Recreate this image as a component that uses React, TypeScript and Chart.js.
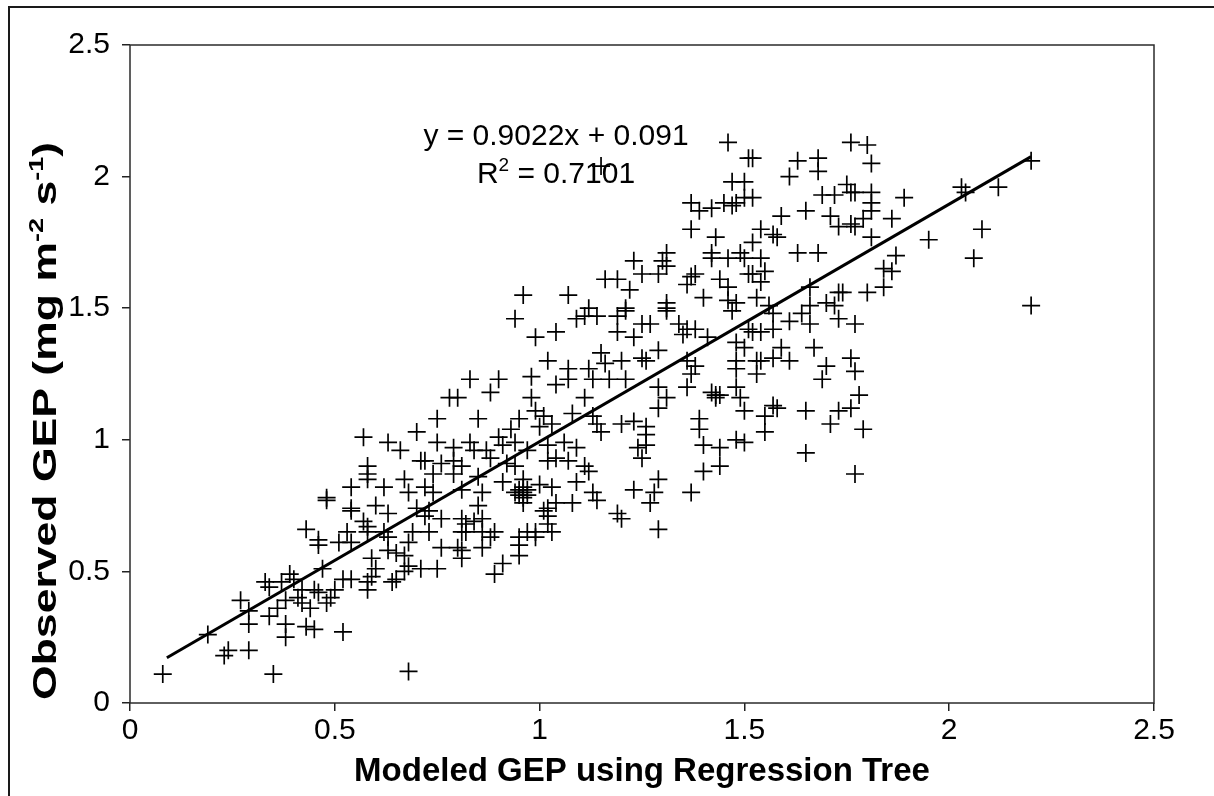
import { useEffect, useRef } from "react";
import { Chart, registerables } from "chart.js";

Chart.register(...registerables);

const FONT = '"Liberation Sans", Arial, Helvetica, sans-serif';

// [modeled GEP, observed GEP] pairs, grouped by the part of the cloud they sit in
const pairsLow: [number, number][] = [
  [0.08, 0.11], [0.19, 0.26], [0.24, 0.2], [0.23, 0.18], [0.29, 0.2], [0.35, 0.11], [0.68, 0.12],
  [0.27, 0.39], [0.29, 0.35], [0.29, 0.3], [0.34, 0.33], [0.33, 0.46], [0.34, 0.44], [0.36, 0.36],
  [0.38, 0.3], [0.38, 0.25], [0.38, 0.39], [0.37, 0.46], [0.4, 0.47], [0.39, 0.49], [0.41, 0.4],
  [0.42, 0.43], [0.42, 0.38], [0.43, 0.29], [0.44, 0.36], [0.45, 0.28], [0.45, 0.43], [0.46, 0.42],
  [0.47, 0.51], [0.48, 0.38], [0.49, 0.4], [0.5, 0.43], [0.52, 0.27], [0.52, 0.47], [0.54, 0.47],
  [0.58, 0.43], [0.58, 0.46], [0.59, 0.48], [0.6, 0.51], [0.59, 0.55], [0.64, 0.46], [0.65, 0.47],
  [0.67, 0.5], [0.68, 0.52], [0.71, 0.51], [0.75, 0.51], [0.43, 0.66], [0.46, 0.62], [0.46, 0.6],
  [0.51, 0.61], [0.53, 0.65], [0.54, 0.61], [0.57, 0.69], [0.58, 0.67], [0.58, 0.65], [0.62, 0.65],
  [0.63, 0.63], [0.63, 0.58], [0.65, 0.57], [0.67, 0.56], [0.68, 0.61], [0.69, 0.65], [0.73, 0.65],
  [0.76, 0.59], [0.76, 0.7], [0.72, 0.71], [0.54, 0.74], [0.54, 0.73], [0.6, 0.75], [0.63, 0.72],
  [0.7, 0.74], [0.73, 0.73], [0.48, 0.77],
];

const pairsLowMid: [number, number][] = [
  [0.57, 1.01], [0.63, 0.99], [0.66, 0.96], [0.7, 1.03], [0.75, 1.08], [0.75, 0.99], [0.78, 1.16],
  [0.58, 0.9], [0.58, 0.87], [0.58, 0.85], [0.54, 0.82], [0.62, 0.82], [0.67, 0.85], [0.71, 0.92],
  [0.72, 0.92], [0.76, 0.91], [0.74, 0.87], [0.68, 0.8], [0.72, 0.82], [0.74, 0.8], [0.48, 0.78],
];

const pairsCore: [number, number][] = [
  [0.85, 0.75], [0.96, 0.76], [1.02, 0.74], [1.04, 0.76], [1.08, 0.76], [0.81, 0.7], [0.82, 0.68],
  [0.86, 0.7], [0.84, 0.69], [0.81, 0.65], [0.82, 0.65], [0.86, 0.65], [0.89, 0.65], [0.88, 0.63],
  [0.8, 0.59], [0.81, 0.58], [0.81, 0.55], [0.86, 0.59], [0.95, 0.63], [0.95, 0.6], [0.95, 0.56],
  [0.97, 0.65], [0.99, 0.65], [0.99, 0.63], [1.02, 0.71], [1.02, 0.68], [1.03, 0.65], [1.01, 0.73],
  [0.91, 0.53], [0.89, 0.49], [1.19, 0.72], [1.2, 0.7], [1.29, 0.66], [1.14, 0.77], [1.27, 0.76],
];

const pairsCentral: [number, number][] = [
  [0.94, 1.46], [1.09, 1.46], [1.11, 1.47], [1.14, 1.47], [1.19, 1.47], [1.21, 1.49], [1.25, 1.44],
  [1.27, 1.44], [1.34, 1.44], [1.36, 1.42], [1.38, 1.42], [1.35, 1.4], [1.41, 1.39], [1.31, 1.49],
  [1.47, 1.49], [0.99, 1.39], [1.04, 1.41], [1.19, 1.41], [1.23, 1.39], [1.29, 1.34], [1.48, 1.37],
  [1.5, 1.35], [1.51, 1.42], [1.15, 1.33], [1.16, 1.29], [1.2, 1.3], [1.25, 1.31], [1.26, 1.3],
  [1.02, 1.3], [1.07, 1.27], [1.12, 1.27], [1.17, 1.23], [1.21, 1.23], [1.13, 1.23], [1.07, 1.23],
  [0.98, 1.24], [1.04, 1.21], [0.83, 1.23], [0.9, 1.23], [0.88, 1.18], [0.8, 1.16], [0.98, 1.16],
  [1.11, 1.16], [1.29, 1.2], [1.36, 1.2], [1.37, 1.25], [1.36, 1.3], [1.38, 1.28], [1.31, 1.16],
  [1.29, 1.12], [1.43, 1.17], [1.43, 1.16], [1.44, 1.17], [1.42, 1.18], [1.48, 1.2], [1.49, 1.16],
  [1.5, 1.11], [1.48, 1.3], [1.48, 1.27],
  [0.85, 1.08], [0.95, 1.08], [0.99, 1.11], [1.01, 1.09], [1.0, 1.05], [1.03, 1.06], [1.08, 1.1],
  [1.13, 1.09], [1.14, 1.06], [1.15, 1.03], [1.2, 1.06], [1.23, 1.07], [1.26, 1.05], [1.26, 1.02],
  [1.39, 1.08], [1.39, 1.04], [0.9, 1.01], [0.93, 1.04], [0.91, 0.98], [0.94, 0.99], [0.83, 0.99],
  [0.84, 0.96], [0.87, 0.96], [0.79, 0.97], [0.97, 0.96], [1.02, 0.98], [1.06, 0.99], [1.09, 0.97],
  [1.24, 0.97], [1.26, 0.98], [1.4, 0.98], [1.44, 0.97], [1.5, 0.99], [1.48, 1.0],
  [0.79, 0.92], [0.81, 0.9], [0.88, 0.93], [0.92, 0.91], [0.94, 0.9], [1.02, 0.92], [1.04, 0.93],
  [1.07, 0.92], [1.12, 0.88], [1.11, 0.9], [1.25, 0.93], [1.44, 0.9], [1.4, 0.88], [0.79, 0.87],
  [0.85, 0.86], [0.91, 0.84], [0.96, 0.85], [0.96, 0.82], [1.0, 0.83], [1.03, 0.82], [1.09, 0.84],
  [1.13, 0.8], [1.23, 0.81], [1.29, 0.85], [1.28, 0.8], [1.37, 0.8], [0.94, 0.8], [0.97, 0.79],
  [0.81, 0.81], [0.86, 0.8], [0.95, 0.79], [0.96, 0.8], [0.97, 0.81], [0.95, 0.81], [0.96, 0.78],
];

const pairsUpperMid: [number, number][] = [
  [1.46, 2.13], [1.51, 2.07], [1.47, 1.98], [1.5, 1.98], [1.37, 1.9], [1.39, 1.87], [1.42, 1.88],
  [1.45, 1.9], [1.47, 1.89], [1.48, 1.9], [1.5, 1.92], [1.37, 1.8], [1.43, 1.77], [1.31, 1.71],
  [1.3, 1.68], [1.31, 1.66], [1.29, 1.63], [1.23, 1.68], [1.25, 1.63], [1.16, 1.61], [1.19, 1.61],
  [1.22, 1.57], [1.42, 1.71], [1.42, 1.69], [1.46, 1.69], [1.49, 1.71], [1.5, 1.69], [1.37, 1.62],
  [1.38, 1.63], [1.36, 1.59], [1.4, 1.54], [1.44, 1.61], [1.46, 1.58], [1.46, 1.53], [1.48, 1.52],
  [1.51, 1.63], [0.96, 1.55], [1.07, 1.55], [1.12, 1.5], [1.21, 1.5], [1.31, 1.52], [1.31, 1.5],
  [1.15, 2.04],
];

const pairsUpperRight: [number, number][] = [
  [1.76, 2.13], [1.8, 2.12], [1.81, 2.05], [1.52, 2.07], [1.63, 2.06], [1.68, 2.07], [1.68, 2.02],
  [1.61, 2.0], [1.52, 1.92], [1.69, 1.93], [1.72, 1.93], [1.75, 1.97], [1.76, 1.94], [1.77, 1.94],
  [1.81, 1.94], [1.81, 1.9], [1.89, 1.92], [1.59, 1.85], [1.65, 1.87], [1.71, 1.85], [1.73, 1.81],
  [1.76, 1.82], [1.77, 1.81], [1.79, 1.84], [1.81, 1.87], [1.86, 1.84], [1.54, 1.8], [1.57, 1.78],
  [1.58, 1.77], [1.52, 1.75], [1.81, 1.77], [1.63, 1.71], [1.68, 1.71], [1.54, 1.69], [1.55, 1.64],
  [1.54, 1.6], [1.52, 1.63], [1.87, 1.7], [1.86, 1.64], [1.84, 1.65], [1.84, 1.58], [1.8, 1.56],
  [1.74, 1.56], [1.73, 1.56], [1.7, 1.52], [1.72, 1.51], [1.66, 1.58], [1.66, 1.51], [1.95, 1.76],
  [2.03, 1.96], [2.04, 1.94], [2.12, 1.96], [2.08, 1.8], [2.06, 1.69], [2.2, 2.06], [2.2, 1.51],
  [1.53, 1.54], [1.56, 1.51],
];

const pairsRight: [number, number][] = [
  [1.57, 1.48], [1.64, 1.48], [1.66, 1.44], [1.61, 1.45], [1.73, 1.46], [1.77, 1.44], [1.52, 1.41],
  [1.54, 1.41], [1.57, 1.42], [1.59, 1.35], [1.67, 1.35], [1.53, 1.3], [1.54, 1.3], [1.57, 1.31],
  [1.61, 1.3], [1.7, 1.28], [1.76, 1.31], [1.77, 1.26], [1.53, 1.25], [1.69, 1.23], [1.78, 1.17],
  [1.57, 1.13], [1.58, 1.12], [1.55, 1.09], [1.65, 1.11], [1.73, 1.11], [1.76, 1.12], [1.71, 1.06],
  [1.79, 1.04], [1.55, 1.03], [1.65, 0.95], [1.77, 0.87],
];

// Least-squares fit reported on the chart
const slope = 0.9022;
const intercept = 0.091;
const rSquared = "0.7101";
const fitRange = [0.09, 2.2];

const xTickValues = [0, 0.5, 1, 1.5, 2, 2.5];
const yTickValues = [0, 0.5, 1, 1.5, 2, 2.5];

const xTitle = "Modeled GEP using Regression Tree";
const yTitleParts: [string, boolean][] = [
  ["Observed GEP (mg m", false],
  ["-2", true],
  [" s", false],
  ["-1", true],
  [")", false],
];

type Part = [string, boolean];

function drawRich(
  ctx: CanvasRenderingContext2D,
  parts: Part[],
  cx: number,
  baseline: number,
  size: number,
  bold: boolean
) {
  const weight = bold ? "bold " : "";
  const mainFont = `${weight}${size}px ${FONT}`;
  const supFont = `${weight}${Math.round(size * 0.62)}px ${FONT}`;
  let total = 0;
  const widths = parts.map(([t, sup]) => {
    ctx.font = sup ? supFont : mainFont;
    const w = ctx.measureText(t).width;
    total += w;
    return w;
  });
  let x = cx - total / 2;
  ctx.textAlign = "left";
  ctx.textBaseline = "alphabetic";
  parts.forEach(([t, sup], i) => {
    ctx.font = sup ? supFont : mainFont;
    ctx.fillText(t, x, sup ? baseline - size * 0.4 : baseline);
    x += widths[i];
  });
}

const decorations = {
  id: "decorations",
  afterDraw(chart: Chart) {
    const { ctx, chartArea: a } = chart;
    ctx.save();
    // page frame
    ctx.strokeStyle = "#1a1a1a";
    ctx.lineWidth = 2;
    ctx.strokeRect(9, 7, 1400, 1000);
    // plot box
    ctx.strokeStyle = "#2b2b2b";
    ctx.lineWidth = 1.5;
    ctx.strokeRect(a.left, a.top, a.right - a.left, a.bottom - a.top);

    ctx.fillStyle = "#000";
    // regression equation
    drawRich(ctx, [[`y = ${slope}x + ${intercept}`, false]], 556, 145, 30, false);
    drawRich(ctx, [["R", false], ["2", true], [` = ${rSquared}`, false]], 556, 183, 30, false);

    // axis titles
    drawRich(ctx, [[xTitle, false]], (a.left + a.right) / 2, 781, 33, true);
    ctx.save();
    ctx.translate(56, 421);
    ctx.rotate(-Math.PI / 2);
    ctx.scale(1.35, 1);
    drawRich(ctx, yTitleParts, 0, 0, 33, true);
    ctx.restore();

    ctx.restore();
  },
};

function axis(values: number[], isX: boolean) {
  return {
    type: "linear" as const,
    min: 0,
    max: 2.5,
    afterBuildTicks: (s: any) => {
      s.ticks = values.map((v) => ({ value: v }));
    },
    afterFit: (s: any) => {
      if (isX) s.height = 93;
      else s.width = 130;
    },
    ticks: {
      color: "#000",
      font: { family: FONT, size: 30 },
      padding: isX ? 2 : 12,
      maxRotation: 0,
      autoSkip: false,
      callback: (v: any) => String(v),
    },
    grid: {
      drawOnChartArea: false,
      drawTicks: true,
      tickLength: 8,
      color: "#222",
      lineWidth: 1.5,
    },
    border: { display: false },
  };
}

export default function App() {
  const canvasRef = useRef<HTMLCanvasElement | null>(null);

  useEffect(() => {
    const canvas = canvasRef.current;
    if (!canvas) return;
    const points = [
      ...pairsLow,
      ...pairsLowMid,
      ...pairsCore,
      ...pairsCentral,
      ...pairsUpperMid,
      ...pairsUpperRight,
      ...pairsRight,
    ].map(([x, y]) => ({ x, y }));
    const fitLine = fitRange.map((x) => ({ x, y: slope * x + intercept }));

    const chart = new Chart(canvas, {
      type: "scatter",
      data: {
        datasets: [
          {
            data: points,
            pointStyle: "cross",
            radius: 9,
            borderColor: "#000",
            backgroundColor: "#000",
            borderWidth: 1.7,
          },
          {
            data: fitLine,
            showLine: true,
            pointRadius: 0,
            borderColor: "#000",
            borderWidth: 3,
          },
        ],
      },
      options: {
        responsive: false,
        animation: false,
        devicePixelRatio: 1,
        layout: { padding: { left: 0, top: 45, right: 60, bottom: 0 } },
        plugins: { legend: { display: false }, tooltip: { enabled: false } },
        scales: { x: axis(xTickValues, true), y: axis(yTickValues, false) },
      },
      plugins: [decorations],
    });
    return () => chart.destroy();
  }, []);

  return (
    <div style={{ position: "fixed", left: 0, top: 0, width: 1214, height: 796, background: "#fff" }}>
      <canvas ref={canvasRef} width={1214} height={796} style={{ display: "block" }} />
    </div>
  );
}
